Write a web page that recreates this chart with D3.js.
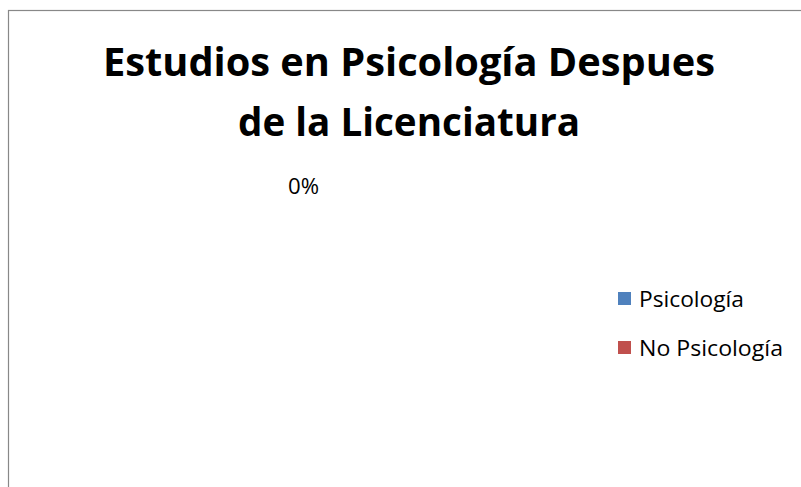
<!DOCTYPE html>
<html>
<head>
<meta charset="utf-8">
<script src="https://cdn.jsdelivr.net/npm/d3@7"></script>
<style>
html,body{margin:0;padding:0;background:#fff;}
svg{display:block;}
</style>
</head>
<body>
<svg id="chart" width="801" height="487"></svg>
<script>
const titleLines = ["Estudios en Psicología Despues", "de la Licenciatura"];
const categories = ["Psicología", "No Psicología"];
const values = [0, 0];
const colors = ["#4F81BD", "#C0504D"];

const svg = d3.select("#chart");
const font = "'Open Sans', 'Liberation Sans', sans-serif";

// chart border
svg.append("rect")
  .attr("x", 8.5).attr("y", 10.5)
  .attr("width", 820).attr("height", 500)
  .attr("fill", "#fff").attr("stroke", "#888").attr("stroke-width", 1.2);

// title
const titleWidths = [612, 342];
svg.append("g").selectAll("text").data(titleLines).join("text")
  .attr("x", 409).attr("y", (d, i) => 76 + i * 60)
  .attr("text-anchor", "middle")
  .attr("font-family", font).attr("font-weight", "bold").attr("font-size", 39)
  .attr("fill", "#000")
  .attr("textLength", (d, i) => titleWidths[i])
  .attr("lengthAdjust", "spacingAndGlyphs")
  .text(d => d);

// pie
const cx = 303.5, cy = 330, r = 120, labelR = 144;
const data = categories.map((c, i) => ({ cat: c, value: values[i], color: colors[i] }));
const total = d3.sum(values);
const pie = d3.pie().value(d => d.value).sort(null);
const arcs = pie(data);
const arc = d3.arc().innerRadius(0).outerRadius(r);
const labelArc = d3.arc().innerRadius(labelR).outerRadius(labelR);

const g = svg.append("g").attr("transform", `translate(${cx},${cy})`);
g.selectAll("path").data(arcs).join("path")
  .attr("d", arc)
  .attr("fill", d => d.data.color);

const fmt = d3.format(".0%");
const labels = arcs.map(a => ({
  text: fmt(total ? a.data.value / total : 0),
  pos: labelArc.centroid(a)
}));
const uniq = labels.filter((l, i) => labels.findIndex(m => m.text === l.text && m.pos[0] === l.pos[0] && m.pos[1] === l.pos[1]) === i);
g.selectAll("text.lbl").data(uniq).join("text")
  .attr("class", "lbl")
  .attr("x", d => d.pos[0]).attr("y", d => d.pos[1] + 8)
  .attr("text-anchor", "middle")
  .attr("font-family", font).attr("font-size", 22)
  .attr("fill", "#000")
  .attr("textLength", 31).attr("lengthAdjust", "spacingAndGlyphs")
  .text(d => d.text);

// legend
const legendWidths = [105, 144];
const lg = svg.append("g");
const items = lg.selectAll("g").data(data).join("g")
  .attr("transform", (d, i) => `translate(618,${292 + i * 49})`);
items.append("rect")
  .attr("width", 13).attr("height", 13)
  .attr("fill", d => d.color);
items.append("text")
  .attr("x", 21).attr("y", 14.5)
  .attr("font-family", font).attr("font-size", 21)
  .attr("fill", "#000")
  .attr("textLength", (d, i) => legendWidths[i])
  .attr("lengthAdjust", "spacingAndGlyphs")
  .text(d => d.cat);
</script>
</body>
</html>
